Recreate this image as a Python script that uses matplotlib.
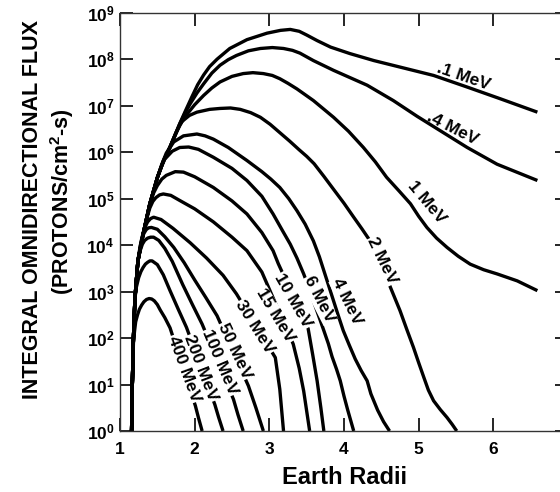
import numpy as np
import matplotlib
matplotlib.use("Agg")
import matplotlib.pyplot as plt

plt.rcParams['font.family'] = ['Liberation Sans', 'DejaVu Sans']
plt.rcParams['font.weight'] = 'bold'
plt.rcParams['mathtext.fontset'] = 'custom'
plt.rcParams['mathtext.rm'] = 'Liberation Sans:bold'
plt.rcParams['mathtext.bf'] = 'Liberation Sans:bold'
plt.rcParams['mathtext.default'] = 'bf'

# --- curves: earth radii vs log10(flux) ---
r_01 = [1.155, 1.165, 1.18, 1.20, 1.24, 1.31, 1.40, 1.50, 1.58, 1.67, 1.80, 1.88, 1.96, 2.04, 2.12, 2.20, 2.30, 2.47, 2.70, 2.97, 3.15, 3.28, 3.40, 3.50, 3.64, 3.82, 4.08, 4.40, 4.75, 5.20, 5.65, 6.09, 6.59]
f_01 = [0.0, 1.0, 2.0, 2.85, 3.66, 4.24, 4.89, 5.45, 5.80, 6.11, 6.61, 6.90, 7.18, 7.45, 7.66, 7.84, 8.00, 8.23, 8.42, 8.56, 8.62, 8.64, 8.60, 8.52, 8.40, 8.26, 8.12, 7.97, 7.83, 7.65, 7.40, 7.15, 6.86]

r_04 = [1.155, 1.165, 1.18, 1.20, 1.24, 1.31, 1.40, 1.50, 1.58, 1.67, 1.80, 1.87, 1.94, 2.03, 2.12, 2.23, 2.34, 2.45, 2.56, 2.72, 2.88, 3.04, 3.19, 3.31, 3.41, 3.50, 3.59, 3.86, 4.31, 4.66, 4.98, 5.33, 5.65, 6.05, 6.59]
f_04 = [0.0, 1.0, 2.0, 2.85, 3.66, 4.24, 4.89, 5.45, 5.80, 6.11, 6.61, 6.84, 7.04, 7.27, 7.47, 7.70, 7.87, 7.99, 8.08, 8.18, 8.23, 8.25, 8.23, 8.19, 8.13, 8.05, 7.97, 7.76, 7.44, 7.11, 6.77, 6.42, 6.10, 5.74, 5.39]

r_1 = [1.155, 1.165, 1.18, 1.20, 1.24, 1.31, 1.40, 1.50, 1.58, 1.67, 1.80, 1.89, 2.00, 2.12, 2.23, 2.34, 2.50, 2.65, 2.78, 2.92, 3.04, 3.14, 3.25, 3.37, 3.59, 3.86, 4.06, 4.26, 4.42, 4.57, 4.74, 4.89, 5.00, 5.11, 5.24, 5.38, 5.53, 5.69, 5.87, 6.05, 6.32, 6.59]
f_1 = [0.0, 1.0, 2.0, 2.85, 3.66, 4.24, 4.89, 5.45, 5.80, 6.11, 6.58, 6.80, 7.02, 7.22, 7.38, 7.51, 7.63, 7.69, 7.71, 7.69, 7.65, 7.58, 7.48, 7.36, 7.11, 6.75, 6.45, 6.10, 5.79, 5.46, 5.16, 4.89, 4.62, 4.38, 4.15, 3.95, 3.76, 3.59, 3.47, 3.38, 3.23, 3.02]

r_2 = [1.155, 1.165, 1.18, 1.20, 1.24, 1.31, 1.40, 1.50, 1.58, 1.67, 1.75, 1.83, 1.93, 2.03, 2.20, 2.34, 2.48, 2.61, 2.75, 2.88, 3.01, 3.14, 3.27, 3.40, 3.50, 3.60, 3.73, 3.86, 4.00, 4.13, 4.24, 4.35, 4.44, 4.53, 4.64, 4.75, 4.84, 4.93, 5.00, 5.07, 5.13, 5.20, 5.29, 5.38, 5.45, 5.51]
f_2 = [0.0, 1.0, 2.0, 2.85, 3.66, 4.24, 4.89, 5.45, 5.80, 6.11, 6.42, 6.66, 6.79, 6.86, 6.92, 6.94, 6.95, 6.92, 6.85, 6.75, 6.60, 6.42, 6.24, 6.05, 5.91, 5.75, 5.48, 5.20, 4.90, 4.60, 4.35, 4.09, 3.79, 3.45, 3.02, 2.59, 2.19, 1.80, 1.47, 1.15, 0.88, 0.65, 0.46, 0.29, 0.14, 0.0]

r_4 = [1.155, 1.165, 1.18, 1.20, 1.24, 1.31, 1.40, 1.50, 1.56, 1.62, 1.72, 1.85, 2.03, 2.14, 2.25, 2.45, 2.70, 2.90, 3.02, 3.14, 3.26, 3.37, 3.48, 3.59, 3.67, 3.73, 3.79, 3.85, 3.92, 3.99, 4.07, 4.15, 4.23, 4.31, 4.36, 4.45, 4.53, 4.61]
f_4 = [0.0, 1.0, 2.0, 2.85, 3.66, 4.24, 4.89, 5.45, 5.74, 5.98, 6.22, 6.35, 6.39, 6.35, 6.28, 6.10, 5.82, 5.58, 5.42, 5.24, 5.00, 4.74, 4.45, 4.09, 3.75, 3.45, 3.15, 2.85, 2.50, 2.16, 1.85, 1.55, 1.30, 1.08, 0.80, 0.45, 0.20, 0.0]

r_6 = [1.155, 1.165, 1.18, 1.20, 1.24, 1.31, 1.40, 1.50, 1.55, 1.60, 1.70, 1.80, 1.92, 2.05, 2.25, 2.50, 2.70, 2.90, 3.05, 3.18, 3.28, 3.37, 3.46, 3.53, 3.59, 3.66, 3.73, 3.79, 3.84, 3.90, 3.95, 4.00, 4.05, 4.13]
f_6 = [0.0, 1.0, 2.0, 2.85, 3.66, 4.24, 4.89, 5.45, 5.67, 5.85, 6.02, 6.10, 6.11, 6.06, 5.89, 5.65, 5.39, 5.05, 4.67, 4.30, 4.02, 3.72, 3.38, 3.08, 2.80, 2.48, 2.16, 1.88, 1.60, 1.33, 1.08, 0.75, 0.45, 0.0]

r_10 = [1.155, 1.165, 1.18, 1.20, 1.24, 1.31, 1.40, 1.45, 1.50, 1.56, 1.62, 1.74, 1.85, 2.00, 2.25, 2.50, 2.70, 2.90, 3.05, 3.12, 3.52, 3.58, 3.64, 3.69, 3.73]
f_10 = [0.0, 1.0, 2.0, 2.85, 3.66, 4.24, 4.89, 5.12, 5.28, 5.42, 5.50, 5.58, 5.57, 5.47, 5.24, 4.95, 4.67, 4.27, 3.88, 3.60, 2.20, 1.65, 1.08, 0.50, 0.0]

r_15 = [1.155, 1.165, 1.18, 1.20, 1.24, 1.31, 1.36, 1.40, 1.44, 1.48, 1.53, 1.58, 1.68, 1.80, 2.00, 2.25, 2.50, 2.70, 2.90, 3.32, 3.40, 3.46, 3.54]
f_15 = [0.0, 1.0, 2.0, 2.85, 3.66, 4.24, 4.58, 4.80, 4.94, 5.02, 5.08, 5.10, 5.07, 4.96, 4.78, 4.50, 4.17, 3.88, 3.42, 1.87, 1.35, 0.86, 0.0]

r_30 = [1.155, 1.165, 1.18, 1.20, 1.24, 1.27, 1.30, 1.34, 1.37, 1.41, 1.45, 1.55, 1.71, 1.94, 2.16, 2.38, 2.56, 3.08, 3.14, 3.19]
f_30 = [0.0, 1.0, 2.0, 2.85, 3.66, 3.98, 4.20, 4.40, 4.50, 4.57, 4.60, 4.55, 4.36, 4.05, 3.72, 3.35, 2.95, 1.58, 0.90, 0.0]

r_50 = [1.155, 1.165, 1.18, 1.20, 1.24, 1.27, 1.29, 1.32, 1.35, 1.38, 1.42, 1.50, 1.60, 1.72, 1.86, 2.00, 2.15, 2.30, 2.72, 2.82, 2.92]
f_50 = [0.0, 1.0, 2.0, 2.85, 3.66, 3.95, 4.12, 4.25, 4.33, 4.37, 4.38, 4.34, 4.18, 3.95, 3.62, 3.25, 2.87, 2.48, 0.97, 0.50, 0.0]

r_100 = [1.155, 1.165, 1.18, 1.20, 1.24, 1.27, 1.30, 1.33, 1.37, 1.41, 1.45, 1.52, 1.60, 1.70, 1.84, 1.97, 2.10, 2.52, 2.58, 2.65]
f_100 = [0.0, 1.0, 2.0, 2.85, 3.66, 3.88, 4.02, 4.10, 4.15, 4.17, 4.17, 4.10, 3.93, 3.65, 3.15, 2.72, 2.30, 0.68, 0.35, 0.0]

r_200 = [1.155, 1.165, 1.18, 1.20, 1.22, 1.25, 1.28, 1.31, 1.34, 1.37, 1.40, 1.43, 1.50, 1.58, 1.67, 1.78, 1.89, 2.27, 2.32, 2.38]
f_200 = [0.0, 1.0, 2.0, 2.85, 3.10, 3.30, 3.43, 3.52, 3.59, 3.63, 3.66, 3.66, 3.58, 3.36, 3.02, 2.62, 2.23, 0.57, 0.30, 0.0]

r_400 = [1.155, 1.165, 1.18, 1.195, 1.21, 1.235, 1.26, 1.29, 1.32, 1.355, 1.39, 1.425, 1.46, 1.50, 1.54, 1.60, 1.67, 2.01, 2.05, 2.10]
f_400 = [0.0, 1.0, 1.9, 2.15, 2.35, 2.50, 2.62, 2.71, 2.78, 2.83, 2.85, 2.84, 2.80, 2.72, 2.60, 2.44, 2.22, 0.54, 0.29, 0.0]

energies = ['.1 MeV', '.4 MeV', '1 MeV', '2 MeV', '4 MeV', '6 MeV', '10 MeV',
            '15 MeV', '30 MeV', '50 MeV', '100 MeV', '200 MeV', '400 MeV']
radii = [r_01, r_04, r_1, r_2, r_4, r_6, r_10, r_15, r_30, r_50, r_100, r_200, r_400]
logflux = [f_01, f_04, f_1, f_2, f_4, f_6, f_10, f_15, f_30, f_50, f_100, f_200, f_400]

x_ticks = [1, 2, 3, 4, 5, 6, 7]
y_exps = list(range(0, 10))

fig = plt.figure(figsize=(5.6, 4.92), dpi=100)
ax = fig.add_axes([120 / 560, 61 / 492, 448 / 560, 418.3 / 492])

for r, f in zip(radii, logflux):
    ax.plot(r, 10.0 ** np.array(f), color='black', lw=2.4,
            solid_capstyle='butt', solid_joinstyle='round')

# curve labels: (radius, log10 flux, rotation, white box)
label_pos = [(5.60, 7.62, -19, False), (5.46, 6.50, -27, False), (5.10, 4.92, -50, False),
             (4.51, 3.66, -64, True), (4.04, 2.78, -64, True), (3.67, 2.83, -63, True),
             (3.32, 2.80, -60, True), (3.08, 2.48, -59, True), (2.81, 2.24, -58, True),
             (2.53, 1.72, -65, True), (2.34, 1.48, -67, True), (2.08, 1.35, -69, True),
             (1.86, 1.34, -70, True)]
for name, (x, l, rot, boxed) in zip(energies, label_pos):
    bb = dict(facecolor='white', edgecolor='none', pad=0.5) if boxed else None
    ax.text(x, 10 ** l, name, rotation=rot, rotation_mode='anchor', ha='center', va='center',
            fontsize=12.5, fontweight='bold', bbox=bb, zorder=5)

ax.set_yscale('log')
ax.set_xlim(1, 7)
ax.set_ylim(1, 1e9)
ax.set_xticks(x_ticks)
ax.set_xticklabels([str(t) for t in x_ticks])
ax.set_yticks([10.0 ** e for e in y_exps])
ax.set_yticklabels([r'$\mathbf{10^{%d}}$' % e for e in y_exps])
ax.yaxis.set_minor_locator(matplotlib.ticker.NullLocator())
ax.tick_params(which='major', direction='in', length=9.5, width=1.2, top=True, right=True,
               labelsize=12.5)
ax.tick_params(axis='x', pad=8)
ax.tick_params(axis='y', pad=4)
for s in ax.spines.values():
    s.set_linewidth(1.0)
    s.set_color('#333333')

fig.text(33 / 560, 1 - 210 / 492, 'INTEGRAL OMNIDIRECTIONAL FLUX', rotation=90,
         ha='center', va='center', fontsize=15.5, fontweight='bold')
fig.text(62 / 560, 1 - 202 / 492, r'(PROTONS/cm$^{2}$-s)', rotation=90,
         ha='center', va='center', fontsize=15.5, fontweight='bold')
fig.text(344 / 560, 1 - 478 / 492, 'Earth Radii', ha='center', va='center',
         fontsize=17, fontweight='bold')

fig.savefig('out.png', dpi=100)
